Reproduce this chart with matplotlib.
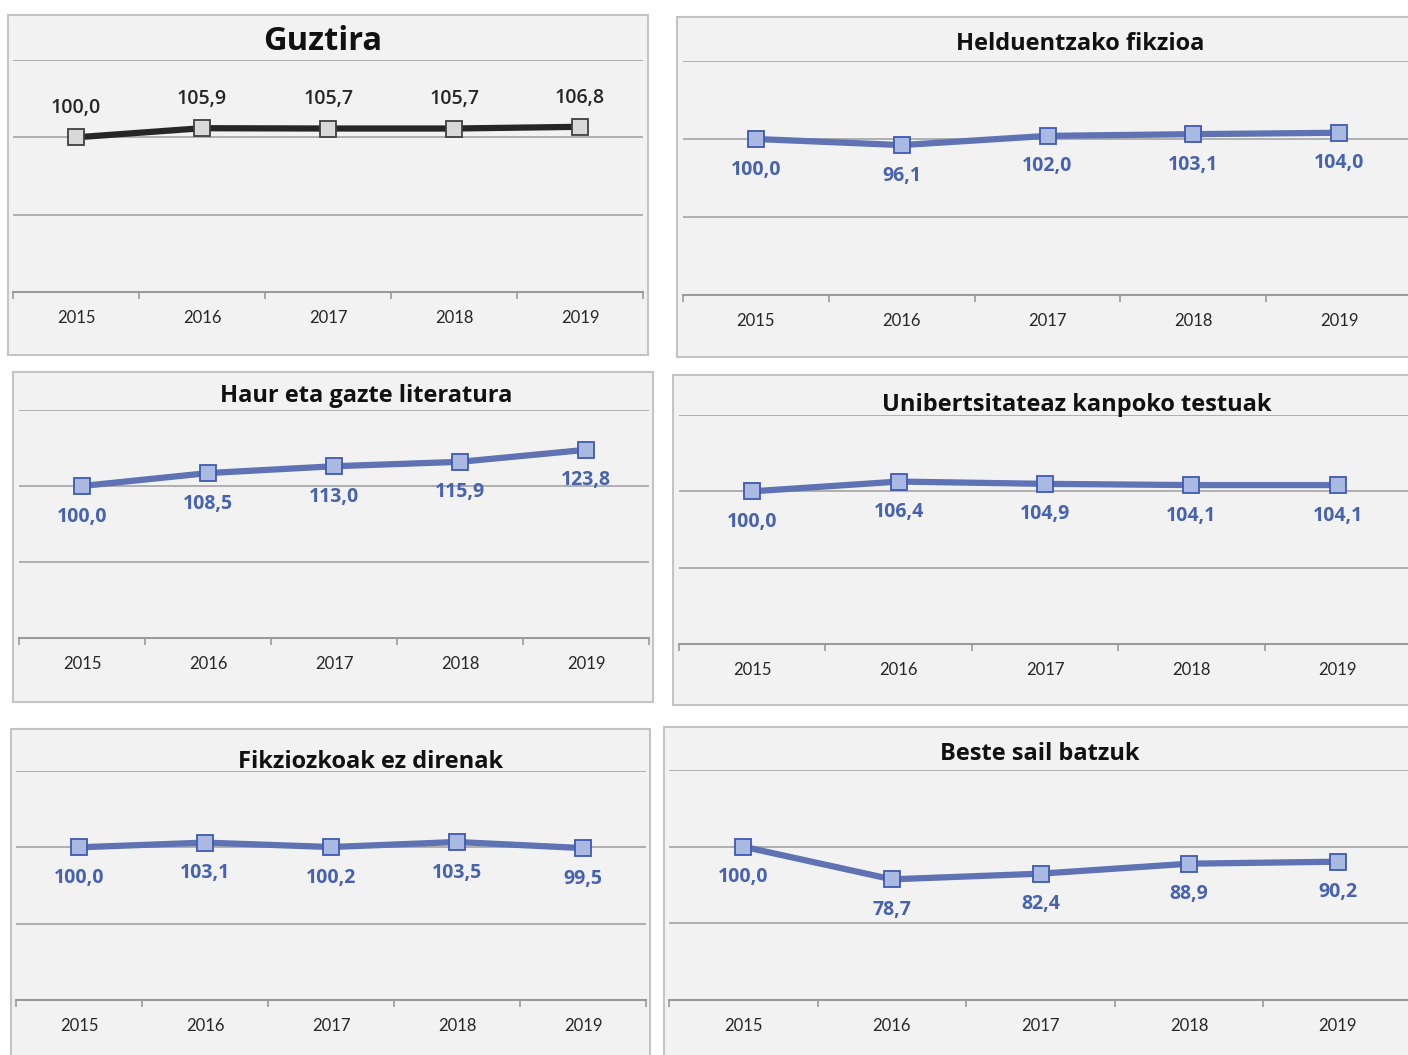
import numpy as np
import matplotlib.pyplot as plt
from matplotlib.patches import Rectangle

years = ['2015', '2016', '2017', '2018', '2019']

titles = ['Guztira', 'Helduentzako fikzioa', 'Haur eta gazte literatura',
          'Unibertsitateaz kanpoko testuak', 'Fikziozkoak ez direnak', 'Beste sail batzuk']
guztira = [100.0, 105.9, 105.7, 105.7, 106.8]
helduentzako = [100.0, 96.1, 102.0, 103.1, 104.0]
haur_gazte = [100.0, 108.5, 113.0, 115.9, 123.8]
unibertsitate = [100.0, 106.4, 104.9, 104.1, 104.1]
fikziozkoak_ez = [100.0, 103.1, 100.2, 103.5, 99.5]
beste_sail = [100.0, 78.7, 82.4, 88.9, 90.2]
series = [guztira, helduentzako, haur_gazte, unibertsitate, fikziozkoak_ez, beste_sail]

W, H = 1408, 1055
fig = plt.figure(figsize=(W / 100, H / 100), dpi=100)
plt.rcParams['font.family'] = ['Lato', 'DejaVu Sans']

def fx(x):
    return x / W

def fy(y):
    return 1 - y / H

# pixel layout: box (x0, y0, x1, y1), axes (left, top, right, bottom), title (x, y, size)
layout = [
    dict(box=(8, 15, 648, 355), ax=(13, 60, 643, 292), title=(323, 42, 23.5)),
    dict(box=(677, 17, 1412, 357), ax=(683, 61, 1412, 295), title=(1080, 44, 17)),
    dict(box=(13, 372, 653, 702), ax=(19, 410, 649, 638), title=(366, 396, 17)),
    dict(box=(673, 375, 1412, 705), ax=(679, 415, 1411, 644), title=(1077, 405, 17)),
    dict(box=(11, 729, 650, 1062), ax=(16, 771, 646, 1000), title=(371, 762, 17)),
    dict(box=(664, 727, 1412, 1062), ax=(669, 770, 1412, 1000), title=(1040, 754, 17)),
]

blue_line = '#5F72B4'
blue_fill = '#AAB9E2'
blue_edge = '#3E5AB2'
blue_text = '#4763B0'

for i, (vals, lay) in enumerate(zip(series, layout)):
    x0, y0, x1, y1 = lay['box']
    fig.patches.append(Rectangle((fx(x0), fy(y1)), fx(x1) - fx(x0), fy(y0) - fy(y1),
                                 transform=fig.transFigure, facecolor='#F2F2F2',
                                 edgecolor='#C4C4C4', linewidth=1.5, zorder=-5))
    l, t, r, b = lay['ax']
    ax = fig.add_axes([fx(l), fy(b), fx(r) - fx(l), fy(t) - fy(b)])
    ax.set_facecolor('none')
    ax.set_xlim(-0.5, 4.5)
    ax.set_ylim(0, 150)
    ax.set_yticks([0, 50, 100, 150])
    ax.yaxis.grid(True, color='#A3A3A3', linewidth=1.2)
    ax.set_axisbelow(True)
    ax.tick_params(axis='y', length=0, labelleft=False)
    for s in ['top', 'left', 'right']:
        ax.spines[s].set_visible(False)
    ax.spines['bottom'].set_color('#9A9A9A')
    ax.spines['bottom'].set_linewidth(1.5)
    ax.set_xticks(np.arange(-0.5, 5.0, 1.0))
    ax.set_xticklabels([])
    ax.tick_params(axis='x', which='major', length=5, width=1.2, color='#9A9A9A', direction='out')
    ax.set_xticks(np.arange(5), minor=True)
    ax.set_xticklabels(years, minor=True, fontsize=12, color='#262626')
    ax.tick_params(axis='x', which='minor', length=0, pad=13)

    xs = np.arange(len(vals))
    if i == 0:
        lc, mf, me, tc, off, fw = '#262626', '#D9D9D9', '#404040', '#262626', 21, 'semibold'
    else:
        lc, mf, me, tc, off, fw = blue_line, blue_fill, blue_edge, blue_text, -22, 'bold'
    ax.plot(xs, vals, color=lc, linewidth=4.5, marker='s', markersize=11.5,
            markerfacecolor=mf, markeredgecolor=me, markeredgewidth=1.3, clip_on=False, zorder=3)
    for xv, v in zip(xs, vals):
        ax.annotate(f'{v:.1f}'.replace('.', ','), (xv, v), xytext=(0, off),
                    textcoords='offset points', ha='center', va='center',
                    fontsize=14, color=tc, fontweight=fw, zorder=4,
                    family=['Open Sans', 'DejaVu Sans'])

    tx, ty, ts = lay['title']
    fig.text(fx(tx), fy(ty), titles[i], ha='center', va='center', fontsize=ts,
             fontweight='bold', color='#111111', family=['Open Sans', 'DejaVu Sans'])

fig.savefig('out.png', dpi=100)
